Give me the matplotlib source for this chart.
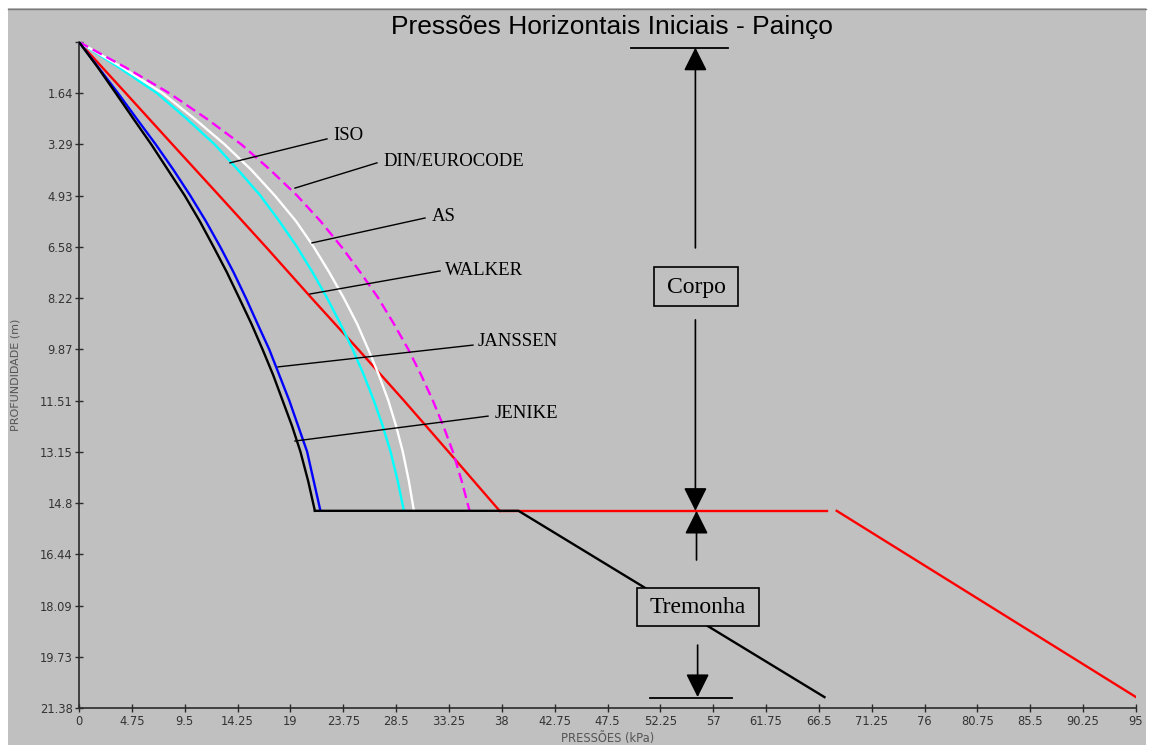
import matplotlib
matplotlib.use("Agg")
import matplotlib.pyplot as plt
from matplotlib.patches import Rectangle
from matplotlib.lines import Line2D

# --- data -----------------------------------------------------------------
# depths (m) in the silo body for the curved solutions
depth_body = [0.0, 0.82, 1.64, 2.47, 3.29, 4.11, 4.93, 5.75, 6.58, 7.40,
              8.22, 9.05, 9.87, 10.69, 11.51, 12.33, 13.15, 14.10, 15.05]

# horizontal pressures (kPa) in the body
p_jenike = [0.0, 1.7, 3.3, 4.9, 6.5, 8.0, 9.5, 10.85, 12.1, 13.3,
            14.4, 15.5, 16.5, 17.45, 18.3, 19.15, 19.9, 20.6, 21.2]
p_janssen = [0.0, 1.75, 3.5, 5.2, 6.9, 8.5, 10.0, 11.4, 12.7, 13.9,
             15.0, 16.05, 17.1, 18.0, 18.9, 19.7, 20.5, 21.1, 21.7]
p_iso = [0.0, 3.6, 7.0, 9.7, 12.2, 14.3, 16.3, 18.0, 19.6, 21.0,
         22.3, 23.5, 24.6, 25.6, 26.5, 27.3, 28.0, 28.65, 29.2]
p_as = [0.0, 3.9, 7.5, 10.4, 13.1, 15.5, 17.6, 19.5, 21.1, 22.5,
        23.8, 25.0, 26.0, 26.95, 27.8, 28.5, 29.1, 29.65, 30.1]
p_din = [0.0, 4.2, 8.1, 11.5, 14.6, 17.2, 19.6, 21.7, 23.6, 25.3,
         26.9, 28.3, 29.6, 30.75, 31.8, 32.75, 33.6, 34.4, 35.1]

# Walker's body solution is almost linear
depth_walker = [0.0, 1.64, 3.29, 4.93, 6.58, 8.22, 9.87, 11.51, 13.15, 15.05]
p_walker = [0.0, 4.2, 8.4, 12.6, 16.8, 20.9, 25.1, 29.2, 33.2, 37.8]

# hopper: transition depth and outlet depth
depth_transition = 15.05
depth_outlet = 21.03
jenike_hopper_p = [21.2, 39.5, 67.0]        # horizontal jump, then linear
walker_jump_p = [37.8, 67.2]                 # switch pressure at transition
walker_hopper_p = [68.1, 95.0]               # linear to outlet

x_ticks = [0, 4.75, 9.5, 14.25, 19, 23.75, 28.5, 33.25, 38, 42.75, 47.5,
           52.25, 57, 61.75, 66.5, 71.25, 76, 80.75, 85.5, 90.25, 95]
x_tick_labels = ["0", "4.75", "9.5", "14.25", "19", "23.75", "28.5", "33.25",
                 "38", "42.75", "47.5", "52.25", "57", "61.75", "66.5",
                 "71.25", "76", "80.75", "85.5", "90.25", "95"]
y_ticks = [0, 1.64, 3.29, 4.93, 6.58, 8.22, 9.87, 11.51, 13.15, 14.8,
           16.44, 18.09, 19.73, 21.38]
y_tick_labels = ["", "1.64", "3.29", "4.93", "6.58", "8.22", "9.87", "11.51",
                 "13.15", "14.8", "16.44", "18.09", "19.73", "21.38"]

BG = "#c0c0c0"
SANS = ["Liberation Sans", "DejaVu Sans"]
TICKFONT = ["DejaVu Sans"]
SERIF = ["Liberation Serif", "DejaVu Serif"]

fig = plt.figure(figsize=(11.55, 7.45), dpi=100, facecolor="white")
fig.patches.append(Rectangle((8 / 1155, 0), (1146 - 8) / 1155, (745 - 8) / 745,
                             transform=fig.transFigure, facecolor=BG,
                             edgecolor="none", zorder=-10))
fig.lines.append(Line2D([8 / 1155, 1146 / 1155], [1 - 8.5 / 745, 1 - 8.5 / 745],
                        transform=fig.transFigure, color="#7a7a7a", lw=1.0,
                        zorder=-9))

ax = fig.add_axes([79 / 1155, 1 - 708 / 745, (1136 - 79) / 1155, (708 - 42) / 745])
ax.set_zorder(1)
ax.set_facecolor("none")
ax.set_xlim(0, 95)
ax.set_ylim(21.38, 0)
for s in ("top", "right"):
    ax.spines[s].set_visible(False)
for s in ("left", "bottom"):
    ax.spines[s].set_color("#2a2a2a")
    ax.spines[s].set_linewidth(1.2)

ax.set_xticks(x_ticks)
ax.set_xticklabels(x_tick_labels, fontfamily=TICKFONT, fontsize=8.3, color="#333333")
ax.set_yticks(y_ticks)
ax.set_yticklabels(y_tick_labels, fontfamily=TICKFONT, fontsize=8.3, color="#333333")
ax.tick_params(axis="both", direction="inout", length=6, width=1.0, color="#2a2a2a")
ax.tick_params(axis="x", pad=2)
ax.tick_params(axis="y", pad=1.5)

ax.set_xlabel("PRESSÕES (kPa)", fontfamily=TICKFONT, fontsize=8.3, color="#555555",
              labelpad=3)
ax.set_ylabel("PROFUNDIDADE (m)", fontfamily=TICKFONT, fontsize=8, color="#555555",
              labelpad=14)

fig.text(612 / 1155, 1 - 27 / 745, "Pressões Horizontais Iniciais - Painço",
         ha="center", va="center", fontfamily=SANS, fontsize=19, color="black")

LW = 1.7
# hopper segments
ax.plot(walker_jump_p, [depth_transition] * 2, color="#ff0000", lw=LW, zorder=3)
ax.plot(walker_hopper_p, [depth_transition, depth_outlet], color="#ff0000", lw=LW, zorder=3)
ax.plot(jenike_hopper_p, [depth_transition, depth_transition, depth_outlet],
        color="black", lw=LW, zorder=4)

# body curves
ax.plot(p_walker, depth_walker, color="#ff0000", lw=LW, zorder=3)
ax.plot(p_iso, depth_body, color="#00ffff", lw=LW, zorder=3)
ax.plot(p_as, depth_body, color="white", lw=LW, zorder=3)
ax.plot(p_din, depth_body, color="#ff00ff", lw=LW, zorder=3, dashes=(4.4, 2.2))
ax.plot(p_janssen, depth_body, color="#0000ff", lw=LW, zorder=3)
ax.plot(p_jenike, depth_body, color="black", lw=LW, zorder=4)

# curve labels with leader lines: (start on curve), (end), text anchor
labels = [
    ("ISO", (13.57, 3.88), (22.29, 3.11), (22.83, 2.99)),
    ("DIN/EUROCODE", (19.41, 4.69), (26.78, 3.88), (27.32, 3.85)),
    ("AS", (20.94, 6.45), (31.10, 5.65), (31.73, 5.59)),
    ("WALKER", (20.76, 8.09), (32.45, 7.35), (32.90, 7.32)),
    ("JANSSEN", (17.89, 10.43), (35.41, 9.73), (35.86, 9.63)),
    ("JENIKE", (19.41, 12.81), (36.76, 12.01), (37.39, 11.94)),
]
for name, a, b, t in labels:
    ax.plot([a[0], b[0]], [a[1], b[1]], color="black", lw=1.0, zorder=5)
    ax.text(t[0], t[1], name, ha="left", va="center", fontfamily=SERIF,
            fontsize=13.5, color="black", zorder=6)

# body / hopper dimension arrows
arrow_kw = dict(arrowstyle="-|>,head_length=1.0,head_width=0.5", mutation_scale=14.4,
                color="black", lw=1.2, shrinkA=0, shrinkB=0)
ax.annotate("", xy=(55.4, 0.18), xytext=(55.4, 6.61), arrowprops=arrow_kw, zorder=6)
ax.annotate("", xy=(55.4, 15.05), xytext=(55.4, 8.92), arrowprops=arrow_kw, zorder=6)
ax.annotate("", xy=(55.5, 15.05), xytext=(55.5, 16.63), arrowprops=arrow_kw, zorder=6)
ax.annotate("", xy=(55.6, 21.03), xytext=(55.6, 19.36), arrowprops=arrow_kw, zorder=6)
ax.plot([49.6, 58.3], [0.18, 0.18], color="black", lw=1.3, zorder=6, clip_on=False)
ax.plot([51.3, 58.7], [21.05, 21.05], color="black", lw=1.3, zorder=6)

for (x0, y0, x1, y1), name, (tx, ty) in [
        ((51.68, 7.22, 59.23, 8.48), "Corpo", (55.45, 7.87)),
        ((50.15, 17.53, 61.12, 18.75), "Tremonha", (55.63, 18.14))]:
    ax.add_patch(Rectangle((x0, y0), x1 - x0, y1 - y0, facecolor=BG,
                           edgecolor="black", lw=1.2, zorder=7))
    ax.text(tx, ty, name, ha="center", va="center", fontfamily=SERIF,
            fontsize=17, color="black", zorder=8)

fig.savefig("out.png", dpi=100, facecolor=fig.get_facecolor())
